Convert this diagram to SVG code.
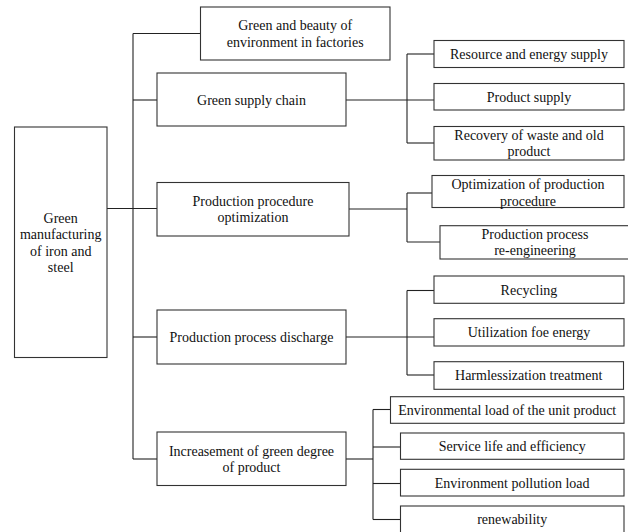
<svg xmlns="http://www.w3.org/2000/svg" width="628" height="532" viewBox="0 0 628 532">
<style>
.box{fill:#fff;stroke:#333;stroke-width:1.1}
.t{font-family:"Liberation Serif","Times New Roman",serif;font-size:14px;fill:#111;text-anchor:middle}
.c{fill:none;stroke:#222;stroke-width:1.1}
</style>
<rect width="628" height="532" fill="#fff"/>
<g id="connectors" class="c">
<path d="M107 208.5H157"/>
<path d="M133 33.5V459"/>
<path d="M133 33.5H200"/>
<path d="M133 100H157"/>
<path d="M133 337H157"/>
<path d="M133 459H157"/>
<path d="M346 100H434"/>
<path d="M407 54V143"/>
<path d="M407 54H434"/>
<path d="M407 143H434"/>
<path d="M349 209H407"/>
<path d="M407 193V242"/>
<path d="M407 193H432"/>
<path d="M407 242H440"/>
<path d="M346 337H434"/>
<path d="M407 290.5V375"/>
<path d="M407 290.5H434"/>
<path d="M407 375H434"/>
<path d="M346 459H373"/>
<path d="M373 409.5V519.5"/>
<path d="M373 409.5H390.5"/>
<path d="M373 447H400.5"/>
<path d="M373 483.5H400.5"/>
<path d="M373 519.5H400.5"/>
</g>
<g id="root"><rect class="box" x="14.5" y="127" width="92.5" height="230.5"/>
<text class="t" x="60.7" y="222.5">Green</text><text class="t" x="60.7" y="239">manufacturing</text><text class="t" x="60.7" y="255.5">of iron and</text><text class="t" x="60.7" y="272">steel</text></g>
<g id="n1"><rect class="box" x="200.5" y="7" width="189.5" height="53"/>
<text class="t" x="295.2" y="30">Green and beauty of</text><text class="t" x="295.2" y="46.5">environment in factories</text></g>
<g id="n2"><rect class="box" x="157" y="73" width="189" height="53"/>
<text class="t" x="251.5" y="104.5">Green supply chain</text></g>
<g id="n3"><rect class="box" x="157" y="182.5" width="192" height="53.5"/>
<text class="t" x="253" y="205.8">Production procedure</text><text class="t" x="253" y="222.3">optimization</text></g>
<g id="n4"><rect class="box" x="157" y="310" width="189" height="54"/>
<text class="t" x="251.5" y="342">Production process discharge</text></g>
<g id="n5"><rect class="box" x="157" y="432" width="189" height="53.5"/>
<text class="t" x="251.5" y="455.8">Increasement of green degree</text><text class="t" x="251.5" y="472.3">of product</text></g>
<g id="s1"><rect class="box" x="434" y="40.5" width="190" height="27"/>
<text class="t" x="529" y="59">Resource and energy supply</text></g>
<g id="s2"><rect class="box" x="434" y="83.5" width="190" height="26.5"/>
<text class="t" x="529" y="101.5">Product supply</text></g>
<g id="s3"><rect class="box" x="434" y="126.5" width="190" height="33.5"/>
<text class="t" x="529" y="139.5">Recovery of waste and old</text><text class="t" x="529" y="156">product</text></g>
<g id="p1"><rect class="box" x="432" y="175.5" width="192" height="32"/>
<text class="t" x="528" y="189.3">Optimization of production</text><text class="t" x="528" y="205.5">procedure</text></g>
<g id="p2"><rect class="box" x="440" y="225.7" width="192" height="33.3"/>
<text class="t" x="535" y="239">Production process</text><text class="t" x="535" y="255.3">re-engineering</text></g>
<g id="d1"><rect class="box" x="434" y="276" width="190" height="27.3"/>
<text class="t" x="529" y="294.5">Recycling</text></g>
<g id="d2"><rect class="box" x="434" y="318.7" width="190" height="27.3"/>
<text class="t" x="529" y="337.3">Utilization foe energy</text></g>
<g id="d3"><rect class="box" x="434" y="361.7" width="189.5" height="27.6"/>
<text class="t" x="528.7" y="380.3">Harmlessization treatment</text></g>
<g id="g1"><rect class="box" x="390.5" y="396.7" width="233.5" height="26.6"/>
<text class="t" x="507.2" y="415">Environmental load of the unit product</text></g>
<g id="g2"><rect class="box" x="400.5" y="433" width="223.5" height="26.3"/>
<text class="t" x="512.2" y="451">Service life and efficiency</text></g>
<g id="g3"><rect class="box" x="400.5" y="469.3" width="223.5" height="26.7"/>
<text class="t" x="512.2" y="487.6">Environment pollution load</text></g>
<g id="g4"><rect class="box" x="400.5" y="506" width="223.5" height="40"/>
<text class="t" x="512.2" y="524">renewability</text></g>
</svg>
